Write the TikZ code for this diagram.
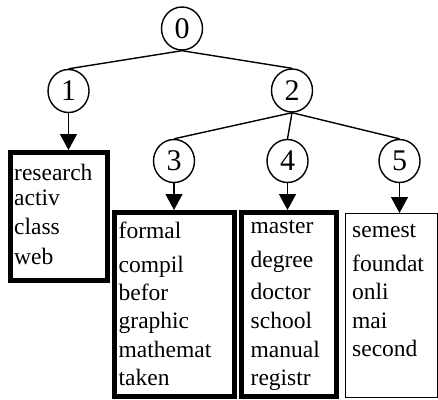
\documentclass[tikz,border=0pt]{standalone}
\usepackage{fontspec}
\setmainfont{Liberation Serif}
\usetikzlibrary{shapes.geometric,arrows.meta}
\begin{document}
\begin{tikzpicture}[x=1pt,y=-1pt,
  vertex/.style={draw,ellipse,line width=1.4pt,minimum width=41pt,minimum height=43pt,inner sep=0pt,
    font=\fontsize{30}{32}\selectfont},
  edge/.style={line width=1.4pt},
  arr/.style={line width=1.4pt,-{Triangle[length=16pt,width=17pt]}},
  thickbox/.style={draw,line width=5pt,inner sep=0pt},
  thinbox/.style={draw,line width=1.4pt,inner sep=0pt},
  word/.style={anchor=base west,inner sep=0pt,font=\fontsize{23.5}{28}\selectfont}]
\useasboundingbox (0,0) rectangle (438,399);

% tree nodes
\node[vertex] (n0) at (182,28.5) {0};
\node[vertex] (n1) at (68.5,91) {1};
\node[vertex] (n2) at (292,90.5) {2};
\node[vertex] (n3) at (174,161) {3};
\node[vertex] (n4) at (287.5,161) {4};
\node[vertex] (n5) at (399.5,161) {5};

% term lists
\node[thickbox,minimum width=97pt,minimum height=128pt] (b1) at (59,216.5) {};
\node[thickbox,minimum width=120pt,minimum height=184pt] (b3) at (174.5,304.5) {};
\node[thickbox,minimum width=95pt,minimum height=184pt] (b4) at (289,304.5) {};
\node[thinbox,minimum width=91.6pt,minimum height=183.6pt] (b5) at (391.5,305.5) {};

% tree edges
\draw[edge] (n0.south) -- (n1.north);
\draw[edge] (n0.south) -- (n2.north);
\draw[edge] (n2.south) -- (n3.north);
\draw[edge] (n2.south) -- (n4.north);
\draw[edge] (n2.south) -- (n5.north);

% leaf arrows
\draw[arr] (n1.south) -- (n1.south |- b1.north);
\draw[arr] (n3.south) -- (n3.south |- b3.north);
\draw[arr] (n4.south) -- (n4.south |- b4.north);
\draw[arr] (n5.south) -- (n5.south |- b5.north);

% words of cluster 1
\node[word] (w1a) at (14,180) {research};
\node[word] (w1b) at (14,205.5) {activ};
\node[word] (w1c) at (14,234) {class};
\node[word] (w1d) at (14,264) {web};

% words of cluster 3
\node[word] (w3a) at (118.5,238) {formal};
\node[word] (w3b) at (118.5,272) {compil};
\node[word] (w3c) at (118.5,300) {befor};
\node[word] (w3d) at (118.5,328.5) {graphic};
\node[word] (w3e) at (118.5,357) {mathemat};
\node[word] (w3f) at (118.5,385.5) {taken};

% words of cluster 4
\node[word] (w4a) at (250.5,233.5) {master};
\node[word] (w4b) at (250.5,267.5) {degree};
\node[word] (w4c) at (250.5,299.5) {doctor};
\node[word] (w4d) at (250.5,328.5) {school};
\node[word] (w4e) at (250.5,357) {manual};
\node[word] (w4f) at (250.5,385.5) {registr};

% words of cluster 5
\node[word] (w5a) at (352,237) {semest};
\node[word] (w5b) at (352,271.5) {foundat};
\node[word] (w5c) at (352,299) {onli};
\node[word] (w5d) at (352,328) {mai};
\node[word] (w5e) at (352,356.5) {second};
\end{tikzpicture}
\end{document}
